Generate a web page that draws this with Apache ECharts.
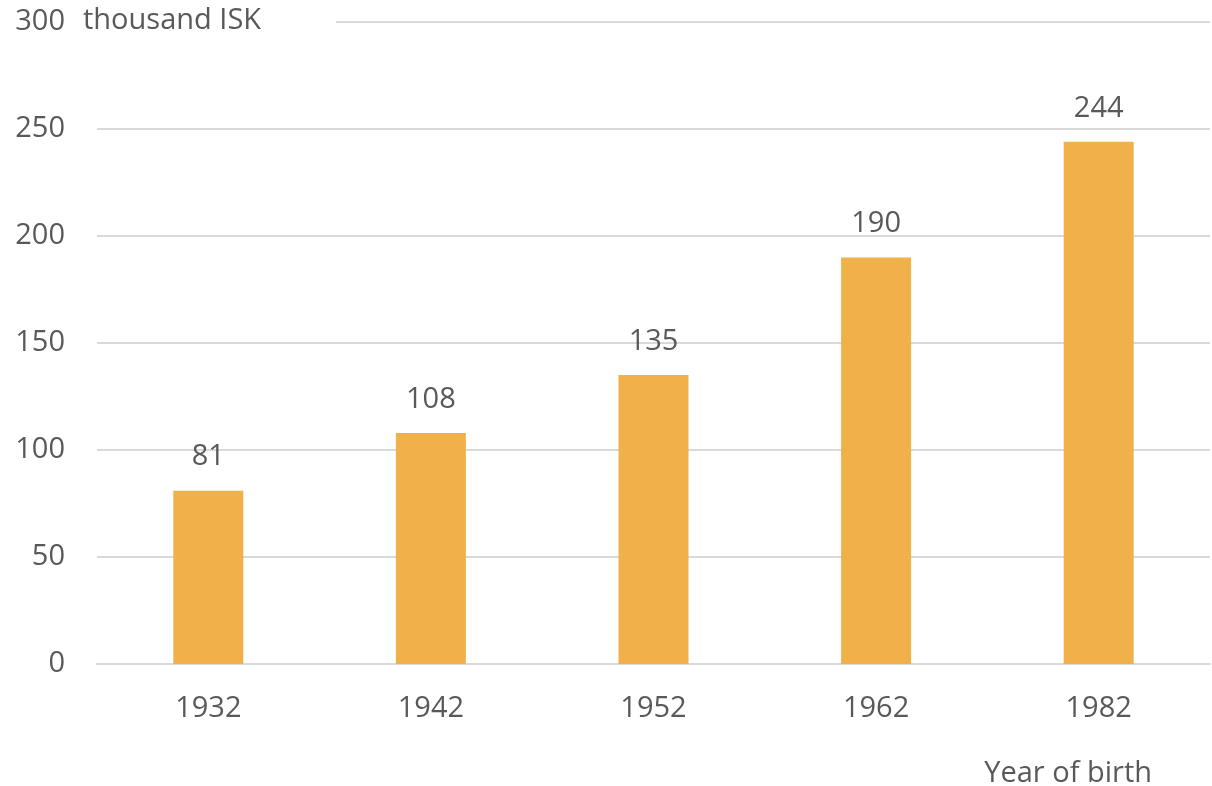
<!DOCTYPE html>
<html>
<head>
<meta charset="utf-8">
<script src="https://cdn.jsdelivr.net/npm/echarts@6/dist/echarts.min.js"></script>
<style>
html,body{margin:0;padding:0;background:#fff;}
#main{width:1212px;height:786px;}
</style>
</head>
<body>
<div id="main"></div>
<script>
const categories = ['1932', '1942', '1952', '1962', '1982'];
const values = [81, 108, 135, 190, 244];
const yTicks = [0, 50, 100, 150, 200, 250, 300];
const unitLabel = 'thousand ISK';
const xTitle = 'Year of birth';

const FONT = '"Open Sans", sans-serif';
const TXT = '#595959';
const FS = 29;

const chart = echarts.init(document.getElementById('main'), null, {renderer: 'canvas'});
chart.setOption({
  animation: false,
  backgroundColor: '#ffffff',
  grid: {left: 97, right: 2, top: 22, bottom: 122, containLabel: false},
  xAxis: {
    type: 'category',
    data: categories,
    axisLine: {show: true, lineStyle: {color: '#D9D9D9', width: 2}},
    axisTick: {show: false},
    axisLabel: {color: TXT, fontFamily: FONT, fontSize: FS, margin: 30}
  },
  yAxis: {
    type: 'value',
    min: yTicks[0],
    max: yTicks[yTicks.length - 1],
    interval: 50,
    axisLine: {show: false},
    axisTick: {show: false},
    splitLine: {show: true, lineStyle: {color: '#D9D9D9', width: 2}},
    axisLabel: {color: TXT, fontFamily: FONT, fontSize: FS, margin: 32}
  },
  series: [{
    type: 'bar',
    data: values,
    barWidth: 70,
    itemStyle: {color: '#F0B04A'},
    label: {
      show: true,
      position: 'top',
      distance: 19,
      color: TXT,
      fontFamily: FONT,
      fontSize: FS
    }
  }],
  graphic: [
    {type: 'rect', left: 90, top: 14, shape: {width: 246, height: 16}, style: {fill: '#ffffff'}, z: 100},
    {type: 'text', left: 83, top: 6, style: {text: unitLabel, fill: TXT, font: FS + 'px "Open Sans", sans-serif'}, z: 101},
    {type: 'text', right: 60, top: 759, style: {text: xTitle, fill: TXT, font: FS + 'px "Open Sans", sans-serif'}, z: 101}
  ]
});
</script>
</body>
</html>
